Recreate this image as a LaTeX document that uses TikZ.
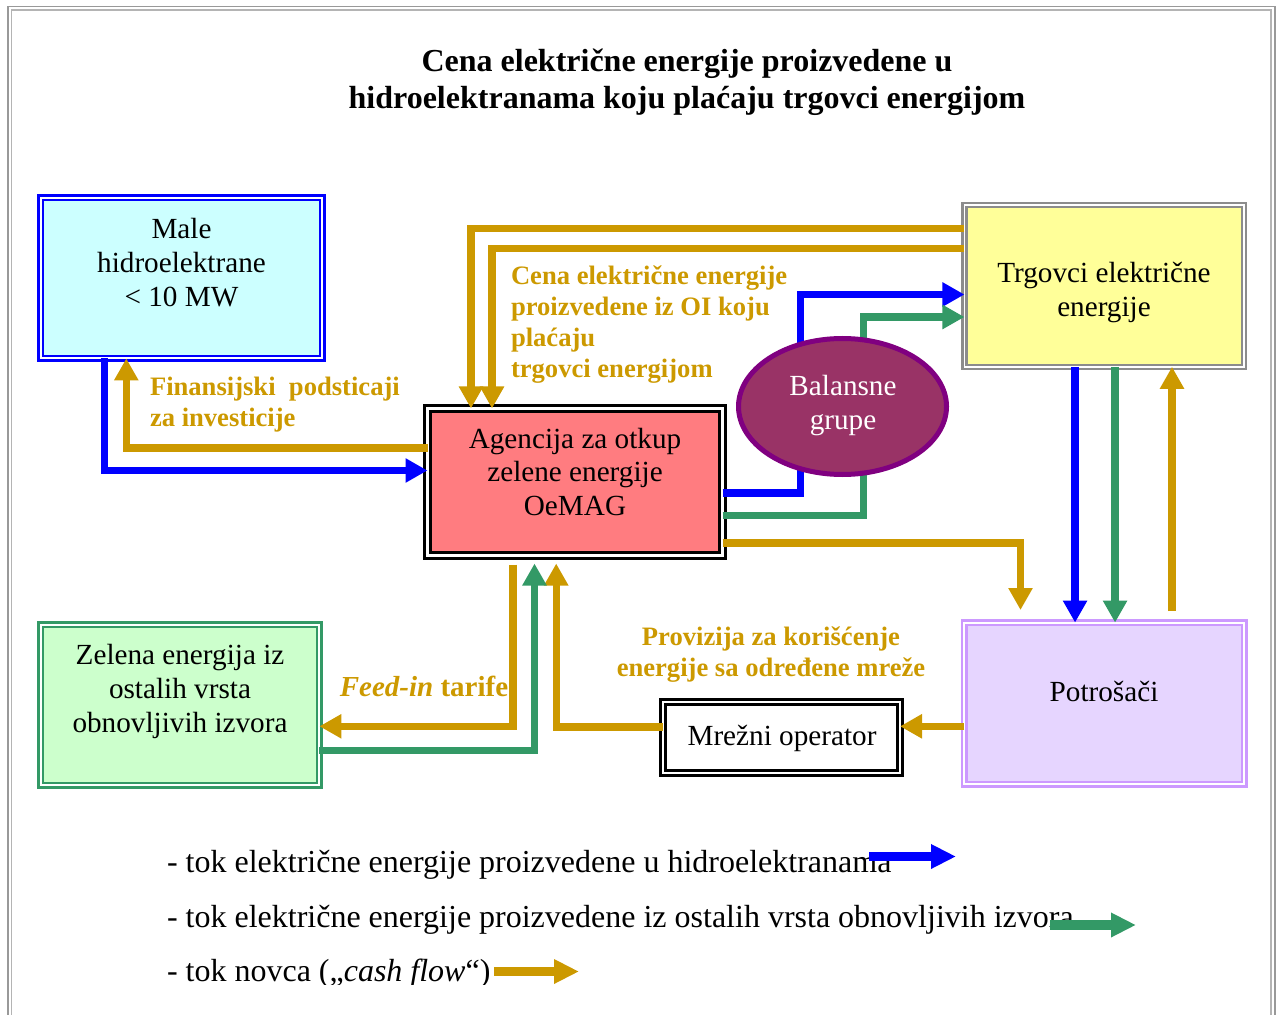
\documentclass[tikz,border=0pt]{standalone}
\usepackage{fontspec}
\setmainfont{Liberation Serif}
\usetikzlibrary{arrows.meta,shapes.geometric}
\definecolor{gold}{HTML}{CC9900}
\definecolor{flowblue}{HTML}{0000FF}
\definecolor{flowgreen}{HTML}{339966}
\definecolor{hydrofill}{HTML}{CCFFFF}
\definecolor{agencyfill}{HTML}{FF7C80}
\definecolor{traderfill}{HTML}{FFFF99}
\definecolor{traderborder}{HTML}{8C8C8C}
\definecolor{consfill}{HTML}{E6D5FF}
\definecolor{consborder}{HTML}{CC99FF}
\definecolor{greenfill}{HTML}{CCFFCC}
\definecolor{balfill}{HTML}{993366}
\definecolor{balborder}{HTML}{800080}
\definecolor{frameA}{HTML}{999999}
\definecolor{frameB}{HTML}{B4B4B4}
\pgfdeclarelayer{fg}
\pgfsetlayers{main,fg}
\begin{document}
\begin{tikzpicture}[x=0.5pt,y=-0.5pt,
  every node/.style={inner sep=0pt, outer sep=0pt},
  flow/.style={line width=3.6pt, -{Triangle[length=11pt,width=11.5pt]}},
  goldflow/.style={flow, draw=gold},
  blueflow/.style={flow, draw=flowblue},
  greenflow/.style={flow, draw=flowgreen},
  dbox/.style={rectangle, double=white, double distance=1pt, line width=1.3pt},
  boxtext/.style={align=center, font=\fontsize{14.6}{16.9}\selectfont},
  goldlabel/.style={text=gold, font=\fontsize{13.3}{15.6}\selectfont\bfseries},
  legtext/.style={anchor=base west, font=\fontsize{16}{18}\selectfont},
  legarrow/.style={line width=4.6pt, -{Triangle[length=12.5pt,width=11.5pt]}}
]
\useasboundingbox (0,0) rectangle (1277,1015);
% page frame
\draw[frameA, line width=0.8pt] (8.2,6.7) rectangle (1275.2,1040);
\draw[frameB, line width=0.7pt] (11.3,10.2) rectangle (1271,1040);

% title
\node[font=\fontsize{16}{18.5}\selectfont\bfseries, align=center] (title) at (687,82)
  {Cena električne energije proizvedene u\\hidroelektranama koju plaćaju trgovci energijom};

% boxes
\node[dbox, draw=flowblue, fill=hydrofill, minimum width=140.9pt, minimum height=80.4pt] (hydro) at (181.5,278) {};
\node[dbox, draw=black, fill=agencyfill, line width=1.5pt, double distance=1.5pt, minimum width=147.5pt, minimum height=73.5pt] (agency) at (575,482) {};
\node[dbox, draw=traderborder, fill=traderfill, line width=1.2pt, double distance=0.8pt, minimum width=139.8pt, minimum height=80.8pt] (trader) at (1104.25,286) {};
\node[dbox, draw=consborder, fill=consfill, minimum width=139.9pt, minimum height=80.9pt] (cons) at (1104.25,703.5) {};
\node[dbox, draw=flowgreen, fill=greenfill, minimum width=139.4pt, minimum height=80.4pt] (green) at (180,705) {};
\node[dbox, draw=black, fill=white, line width=1.4pt, minimum width=118.5pt, minimum height=35.5pt] (net) at (781.5,737.5) {};
\begin{pgfonlayer}{fg}
\node[ellipse, draw=balborder, fill=balfill, line width=2.5pt, minimum width=104pt, minimum height=68pt] (bal) at (842.5,406.5) {};
\node[boxtext, text=white] (balt) at (843,405.5) {Balansne\\grupe};
\end{pgfonlayer}

% box texts
\node[boxtext] (hydrot) at (181.5,262.5) {Male\\hidroelektrane\\< 10 MW};
\node[boxtext] (agencyt) at (575,472) {Agencija za otkup\\zelene energije\\OeMAG};
\node[boxtext] (tradert) at (1104,292.5) {Trgovci električne\\energije};
\node[boxtext] (const) at (1104,691) {Potrošači};
\node[boxtext] (greent) at (180,691.5) {Zelena energija iz\\ostalih vrsta\\obnovljivih izvora};
\node[boxtext] (nett) at (782,738) {Mrežni operator};

% labels
\node[goldlabel, anchor=west, align=left] (finl) at (150,405) {Finansijski\ \ podsticaji\\za investicije};
\node[goldlabel, anchor=west, align=left] (cenal) at (511,324.5) {Cena električne energije\\proizvedene iz OI koju\\plaćaju\\trgovci energijom};
\node[goldlabel, font=\fontsize{14.5}{16}\selectfont\bfseries] (feedl) at (424,686) {\itshape Feed-in\upshape{} tarife};
\node[goldlabel, align=center] (provl) at (771,654.5) {Provizija za korišćenje\\energije sa određene mreže};

% connectors
\draw[blueflow] ([xshift=-38.4pt]hydro.south) |- ([yshift=5.75pt]agency.west);
\draw[goldflow] ([yshift=17pt]agency.west) -| ([xshift=-27.6pt]hydro.south);
\draw[goldflow] ([yshift=28.65pt]trader.west) -| ([xshift=-52pt]agency.north);
\draw[goldflow] ([yshift=18.65pt]trader.west) -| ([xshift=-41.5pt]agency.north);
\draw[blueflow] ([yshift=-5.5pt]agency.east) -| ([xshift=-21pt]bal.center) |- ([yshift=-4.25pt]trader.west);
\draw[greenflow] ([yshift=-16.65pt]agency.east) -| ([xshift=10.6pt]bal.center) |- ([yshift=-15.5pt]trader.west);
\coordinate (g7end) at (1020.5,610);
\draw[goldflow] ([yshift=-30.5pt]agency.east) -| (g7end);
\draw[blueflow] ([xshift=-14.6pt]trader.south) -- ([xshift=-14.6pt]cons.north);
\draw[greenflow] ([xshift=5.4pt]trader.south) -- ([xshift=5.4pt]cons.north);
\coordinate (g10start) at (1172,611);
\draw[goldflow] (g10start) -- (g10start |- trader.south);
\draw[goldflow] ([yshift=-11.4pt]cons.west) -- ([yshift=5.6pt]net.east);
\draw[goldflow] ([yshift=5.25pt]net.west) -| ([xshift=-9.4pt,yshift=-4pt]agency.south);
\draw[goldflow] ([xshift=-31pt,yshift=-4.5pt]agency.south) |- ([yshift=-10.65pt]green.east);
\draw[greenflow] ([yshift=-22.65pt]green.east) -| ([xshift=-20.25pt,yshift=-4pt]agency.south);

% legend
\coordinate (lb1) at (869,856.5); \coordinate (lb2) at (956,856.5);
\coordinate (lg1) at (1050,925); \coordinate (lg2) at (1136,925);
\coordinate (lo1) at (494,971.5); \coordinate (lo2) at (579,971.5);
\node[legtext] (leg1) at (167,872) {- tok električne energije proizvedene u hidroelektranama};
\node[legtext] (leg2) at (167,927) {- tok električne energije proizvedene iz ostalih vrsta obnovljivih izvora};
\begin{scope}
\clip (0,0) rectangle (1277,984);
\node[legtext] (leg3) at (167,981) {- tok novca („\textit{cash flow}“)};
\end{scope}
\draw[legarrow, draw=flowblue] (lb1) -- (lb2);
\draw[legarrow, draw=flowgreen] (lg1) -- (lg2);
\draw[legarrow, draw=gold] (lo1) -- (lo2);
\end{tikzpicture}
\end{document}
